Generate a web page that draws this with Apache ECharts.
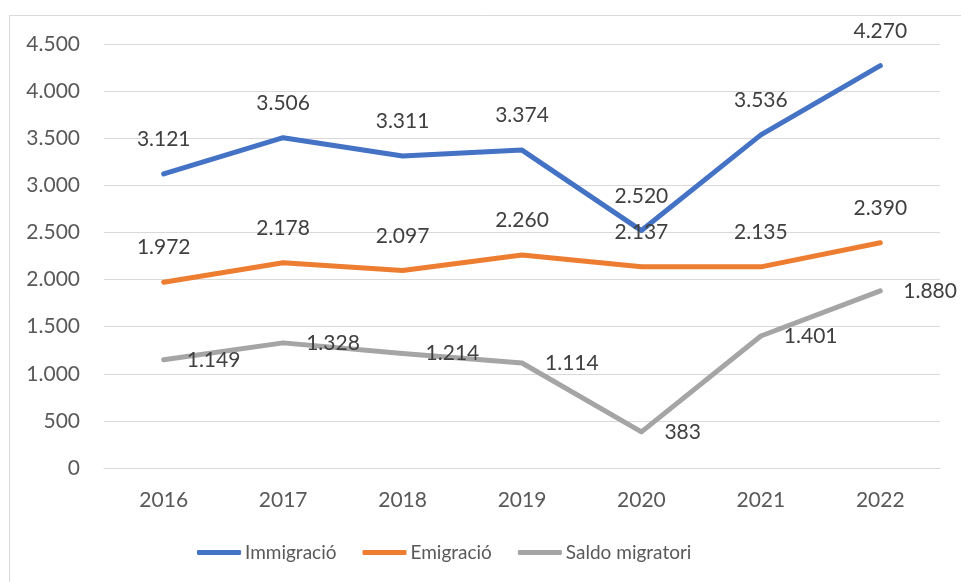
<!DOCTYPE html>
<html lang="ca">
<head>
    <meta charset="UTF-8">
    <title>Immigració i emigració</title>
    <script src="https://cdn.jsdelivr.net/npm/echarts@6.0.0/dist/echarts.min.js"></script>
    <style>
        html, body { margin: 0; padding: 0; background: #fff; }
        #chart { width: 961px; height: 582px; }
    </style>
</head>
<body>
    <div id="chart"></div>
    <script>
        // dades llegides del gràfic
        const years = ['2016', '2017', '2018', '2019', '2020', '2021', '2022'];
        const immigracio = [3121, 3506, 3311, 3374, 2520, 3536, 4270];
        const emigracio = [1972, 2178, 2097, 2260, 2137, 2135, 2390];
        const saldo = [1149, 1328, 1214, 1114, 383, 1401, 1880];
        const yTicks = [0, 500, 1000, 1500, 2000, 2500, 3000, 3500, 4000, 4500];

        const FONT = 'Lato';

        // separador de milers amb punt
        function fmt(v) {
            return String(v).replace(/\B(?=(\d{3})+(?!\d))/g, '.');
        }

        function lineSeries(name, data, color, labelPos) {
            return {
                name: name,
                type: 'line',
                data: data,
                symbol: 'circle',
                symbolSize: 4,
                itemStyle: { color: color },
                lineStyle: { color: color, width: 5, cap: 'round', join: 'round' },
                label: {
                    show: true,
                    position: labelPos,
                    distance: labelPos === 'top' ? 22 : 21,
                    formatter: p => fmt(p.value),
                    color: '#404040',
                    fontFamily: FONT,
                    fontSize: 21
                },
                emphasis: { disabled: true },
                animation: false
            };
        }

        const chart = echarts.init(document.getElementById('chart'));
        chart.setOption({
            animation: false,
            graphic: [{
                type: 'rect',
                shape: { x: 9.5, y: 15.5, width: 1000, height: 1000 },
                style: { fill: 'none', stroke: '#d9d9d9', lineWidth: 1 },
                silent: true
            }],
            grid: { left: 104, right: 21, top: 44, bottom: 114 },
            xAxis: {
                type: 'category',
                data: years,
                boundaryGap: true,
                axisLine: { lineStyle: { color: '#d9d9d9', width: 1 } },
                axisTick: { show: false },
                axisLabel: { color: '#595959', fontFamily: FONT, fontSize: 21, margin: 22 }
            },
            yAxis: {
                type: 'value',
                min: yTicks[0],
                max: yTicks[yTicks.length - 1],
                interval: 500,
                axisLine: { show: false },
                axisTick: { show: false },
                splitLine: { lineStyle: { color: '#d9d9d9', width: 1 } },
                axisLabel: {
                    color: '#595959', fontFamily: FONT, fontSize: 21, margin: 24,
                    formatter: v => fmt(v)
                }
            },
            legend: {
                bottom: 15,
                left: 192,
                itemWidth: 44,
                itemHeight: 5,
                itemGap: 26,
                icon: 'roundRect',
                textStyle: { color: '#595959', fontFamily: FONT, fontSize: 19, padding: [0, 0, 0, -1] },
                data: ['Immigració', 'Emigració', 'Saldo migratori']
            },
            series: [
                lineSeries('Immigració', immigracio, '#4472c4', 'top'),
                lineSeries('Emigració', emigracio, '#ed7d31', 'top'),
                lineSeries('Saldo migratori', saldo, '#a5a5a5', 'right')
            ]
        });
    </script>
</body>
</html>
